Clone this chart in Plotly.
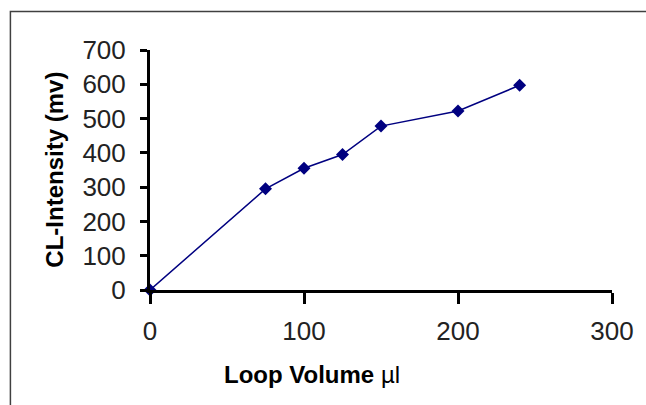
import plotly.graph_objects as go

# -- Data ---------------------------------------------------------------------
loop_volume = [0, 75, 100, 125, 150, 200, 240]
cl_intensity = [0, 295, 355, 395, 478, 522, 597]

x_ticks = [0, 100, 200, 300]
y_ticks = [0, 100, 200, 300, 400, 500, 600, 700]

TICK_FONT = dict(family="Liberation Sans, Arial, sans-serif", size=26, color="#222222")
TITLE_FONT = "Liberation Sans, Arial, sans-serif"

# -- Figure -------------------------------------------------------------------
fig = go.Figure()
fig.add_trace(go.Scatter(
    x=loop_volume, y=cl_intensity,
    mode="lines+markers",
    line=dict(color="#000080", width=1.5),
    marker=dict(symbol="diamond", size=10, color="#000080"),
    cliponaxis=False,
    showlegend=False,
))

fig.update_xaxes(
    range=[0, 300], tickvals=x_ticks, showgrid=False, zeroline=False,
    showline=True, linecolor="black", linewidth=3,
    ticks="outside", ticklen=11, tickwidth=3, tickcolor="black",
    tickfont=TICK_FONT, ticklabelstandoff=5,
)
fig.update_yaxes(
    range=[0, 700], tickvals=y_ticks, showgrid=False, zeroline=False,
    showline=True, linecolor="black", linewidth=3,
    ticks="outside", ticklen=7, tickwidth=3, tickcolor="black",
    tickfont=TICK_FONT, ticklabelstandoff=9,
)

# axis titles as annotations (x title sits left of centre in the original)
fig.add_annotation(
    text="CL-Intensity (mv)", xref="paper", yref="paper",
    x=(53 - 150) / 465, y=0.5, xanchor="center", yanchor="middle",
    textangle=-90, showarrow=False,
    font=dict(family=TITLE_FONT, size=24, color="black", weight="bold"),
)
fig.add_annotation(
    text="<b>Loop Volume</b> µl", xref="paper", yref="paper",
    x=(313 - 150) / 465, y=(290 - 374) / 240, xanchor="center", yanchor="middle",
    showarrow=False,
    font=dict(family=TITLE_FONT, size=24, color="black"),
)

# outer chart frame, running past the right and bottom edges
fig.add_shape(
    type="rect", xref="paper", yref="paper",
    x0=(9.5 - 150) / 465, x1=1.3, y0=-1.0, y1=(290 - 11.5) / 240,
    line=dict(color="#404040", width=1.5), layer="below",
)

fig.update_layout(
    width=646, height=405,
    margin=dict(l=150, r=31, t=50, b=115),
    paper_bgcolor="white", plot_bgcolor="white",
)

fig.write_html(
    "out.html",
    config={"displayModeBar": False},
    post_script="document.body.style.margin='0';document.body.style.overflow='hidden';",
)
